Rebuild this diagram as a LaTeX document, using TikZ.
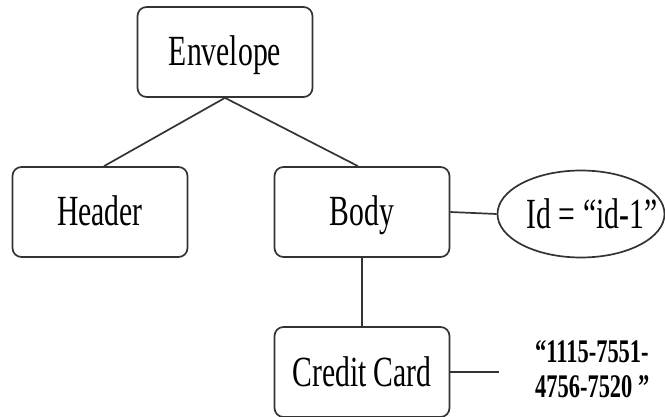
\documentclass[tikz,border=0pt]{standalone}
\usepackage{fontspec}
\setmainfont{Liberation Serif}
\usetikzlibrary{shapes.geometric}
\newcommand{\boxtext}[1]{\scalebox{0.69}[1]{\fontsize{43}{43}\selectfont #1}}
\begin{document}
\begin{tikzpicture}[x=1pt,y=-1pt,
  elem/.style={draw=black!80,line width=1.7pt,rounded corners=9pt,fill=white,
    minimum width=175pt,minimum height=90pt,inner sep=0pt,text height=28pt,text depth=0pt},
  attr/.style={draw=black!80,line width=1.7pt,ellipse,fill=white,
    minimum width=167pt,minimum height=87pt,inner sep=0pt},
  lbl/.style={inner sep=0pt,text height=28pt,text depth=0pt},
  link/.style={draw=black!80,line width=1.7pt}]
\useasboundingbox (0,0) rectangle (665,417);
\node[elem] (env) at (225,52) {\boxtext{Envelope}};
\node[elem] (hdr) at (100,212) {\boxtext{Header}};
\node[elem] (body) at (362,212) {\boxtext{Body}};
\node[attr] (id) at (581,214) {};
\node[lbl] (idtext) at ([xshift=11pt,yshift=-1pt]id.center) {\boxtext{Id = \textquotedblleft id-1\textquotedblright}};
\node[elem] (cc) at (362,372) {\boxtext{Credit Card}};
\node[anchor=west,inner sep=0pt] (num) at (535,373) {\scalebox{0.68}[1]{\fontsize{33}{35}\selectfont\bfseries
  \begin{tabular}{@{}l@{}}\textquotedblleft 1115-7551-\\4756-7520 \textquotedblright\end{tabular}}};
\coordinate (numend) at (499,372);
\draw[link] (env.south) -- ([xshift=4pt]hdr.north);
\draw[link] (env.south) -- ([xshift=-4pt]body.north);
\draw[link] (body.east) -- (id.west);
\draw[link] (body.south) -- (cc.north);
\draw[link] (cc.east) -- (numend);
\end{tikzpicture}
\end{document}
